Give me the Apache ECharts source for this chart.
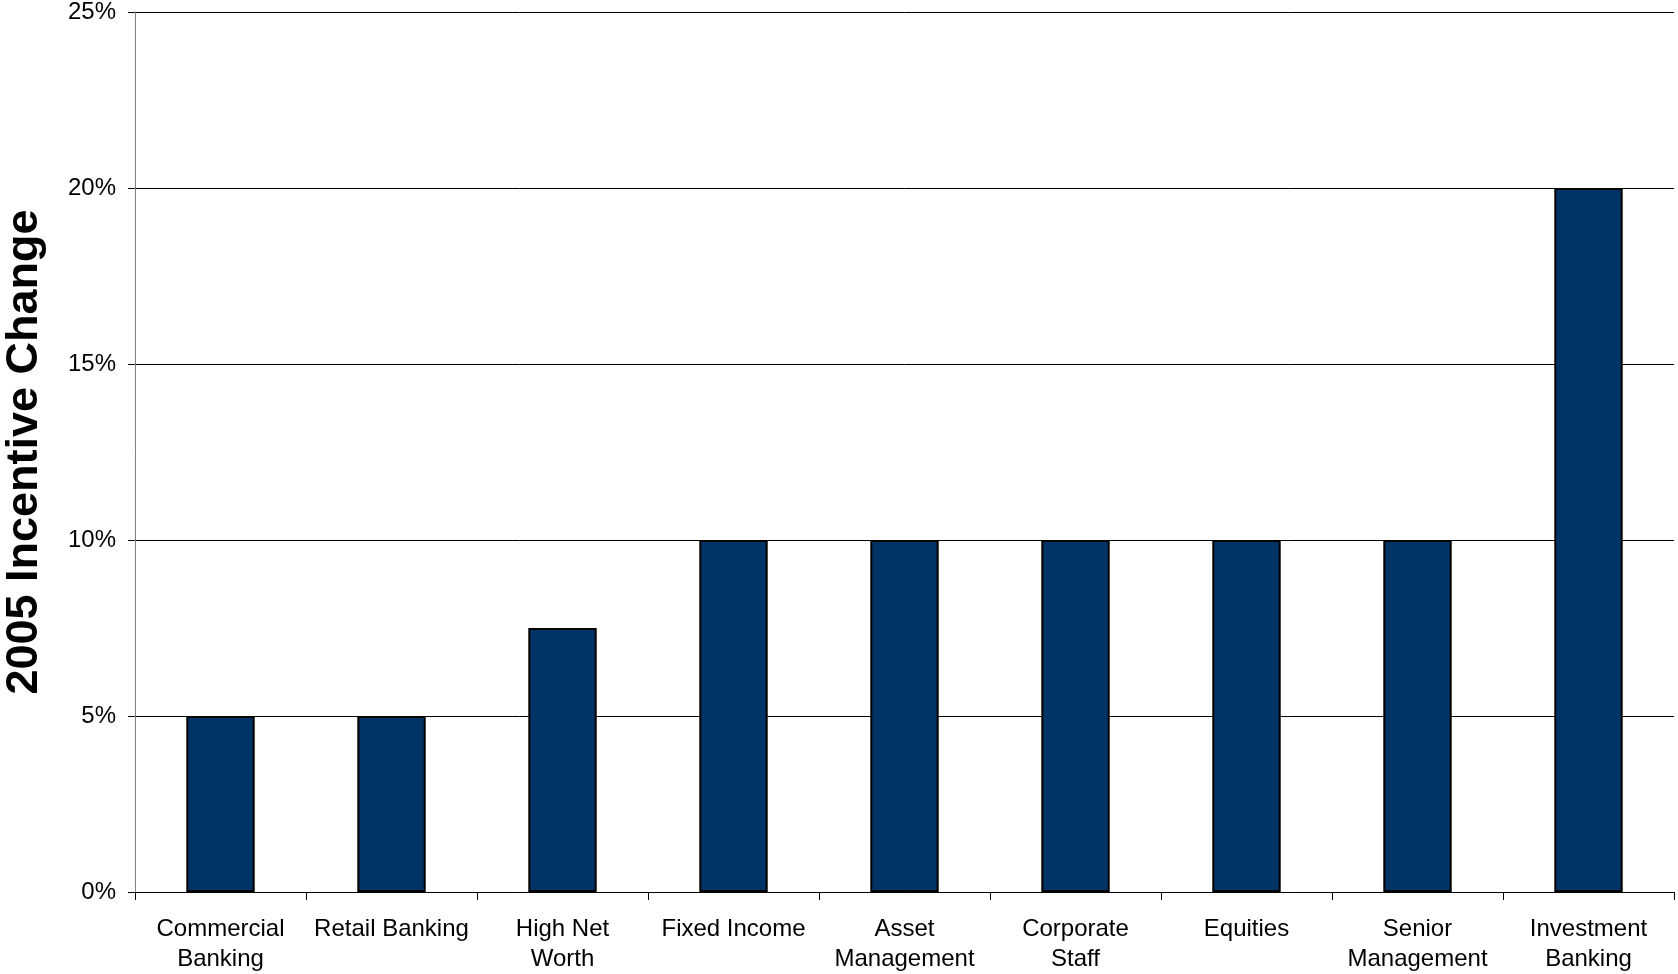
<!DOCTYPE html>
<html>
<head>
<meta charset="utf-8">
<style>
  html, body { margin: 0; padding: 0; background: #ffffff; }
  #chart { width: 1678px; height: 974px; }
</style>
<script src="https://cdn.jsdelivr.net/npm/echarts@6/dist/echarts.min.js"></script>
</head>
<body>
<div id="chart"></div>
<script>
// Business units and their 2005 incentive change (percent)
const categories = [
  'Commercial\nBanking', 'Retail Banking', 'High Net\nWorth', 'Fixed Income',
  'Asset\nManagement', 'Corporate\nStaff', 'Equities', 'Senior\nManagement',
  'Investment\nBanking'
];
const incentiveChange = [5, 5, 7.5, 10, 10, 10, 10, 10, 20];
const yAxisTitle = '2005 Incentive Change';

const chart = echarts.init(document.getElementById('chart'));
const font = '"Liberation Sans", Arial, sans-serif';

chart.setOption({
  animation: false,
  backgroundColor: '#ffffff',
  textStyle: { fontFamily: font },
  grid: {
    left: 135, right: 4, top: 12, bottom: 82,
    containLabel: false, outerBoundsMode: 'none'
  },
  xAxis: {
    type: 'category',
    data: categories,
    boundaryGap: true,
    axisLine: { show: true, lineStyle: { color: '#000000', width: 1 } },
    axisTick: { show: true, alignWithLabel: false, length: 8, lineStyle: { color: '#000000' } },
    axisLabel: {
      color: '#000000', fontSize: 24, fontFamily: font,
      lineHeight: 30, margin: 22, interval: 0
    },
    splitLine: { show: false }
  },
  yAxis: {
    type: 'value',
    min: 0, max: 25, interval: 5,
    name: yAxisTitle,
    nameLocation: 'middle',
    nameGap: 88,
    nameRotate: 90,
    nameTextStyle: { color: '#000000', fontSize: 45, fontWeight: 'bold', fontFamily: font },
    axisLine: { show: true, lineStyle: { color: '#808080', width: 1 } },
    axisTick: { show: true, length: 7, lineStyle: { color: '#000000' } },
    axisLabel: {
      color: '#000000', fontSize: 24, fontFamily: font, margin: 19,
      formatter: v => v + '%'
    },
    splitLine: { show: true, lineStyle: { color: '#000000', width: 1 } }
  },
  series: [{
    type: 'bar',
    data: incentiveChange,
    barWidth: '40%',
    itemStyle: { color: '#003366', borderColor: '#000000', borderWidth: 2 }
  }]
});
</script>
</body>
</html>
